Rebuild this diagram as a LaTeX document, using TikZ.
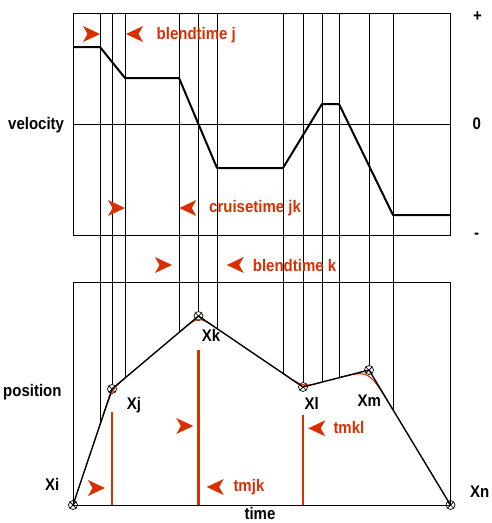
\documentclass[tikz,border=0pt]{standalone}
\usepackage{fontspec}
\setmainfont{Liberation Sans}
\definecolor{bred}{RGB}{216,48,0}
\newcommand{\tx}[1]{\scalebox{1}[1.12]{#1}}
\begin{document}
\begin{tikzpicture}[x=1pt,y=-1pt,
  lbl/.style={font=\fontsize{15}{18}\selectfont\bfseries, inner sep=0pt, anchor=base west},
  rlbl/.style={lbl, text=bred},
  guide/.style={line width=0.9pt},
  frame/.style={line width=1pt},
  prof/.style={line width=2pt, line join=round},
  pospath/.style={line width=1.4pt, line join=round},
  blend/.style={bred, line width=1.1pt},
  tmark/.style={bred, line width=2.5pt},
  via/.style={circle, draw, minimum size=9pt, inner sep=0pt, line width=0.7pt,
    path picture={\draw[line width=0.7pt]
      (path picture bounding box.north west) -- (path picture bounding box.south east)
      (path picture bounding box.north east) -- (path picture bounding box.south west);}},
  rtri/.pic={\fill[bred] (0,0) -- (-17,-8) -- (-12.5,0) -- (-17,8) -- cycle;},
  ltri/.pic={\fill[bred] (0,0) -- (17,-8) -- (12.5,0) -- (17,8) -- cycle;}
]
\useasboundingbox (0,0) rectangle (492,523);

% frames
\draw[frame] (73,13) rectangle (450.5,235);
\draw[frame] (73,282) rectangle (450.5,505);
\draw[frame] (73,124) -- (450.5,124);

% via points
\node[via] (Xi) at (73,505) {};
\node[via] (Xj) at (112,389) {};
\node[via] (Xk) at (198.5,316) {};
\node[via] (Xl) at (303,387) {};
\node[via] (Xm) at (369,370) {};
\node[via] (Xn) at (450.5,505) {};

% guide line ends
\foreach \n/\x/\yb in {a/100/424.7, b/125/378, c/179/332.5, d/217/328.6,
                       e/283/373.4, f/322/382.1, g/339/377.7, h/393/410} {
  \coordinate (t\n) at (\x,13);
  \coordinate (b\n) at (\x,\yb);
  \draw[guide] (t\n) -- (b\n);
}
\foreach \v in {Xj,Xk,Xl,Xm} {
  \coordinate (t\v) at (\v |- 0,13);
  \draw[guide] (t\v) -- (\v.north);
}

% velocity profile
\draw[prof] (73,47) -- (100,47) -- (125,78) -- (179,78) -- (217,168) -- (283,168)
  -- (322,104) -- (339,104) -- (393,215) -- (450.5,215);

% parabolic blends
\draw[blend] (ba) .. controls (Xj.center) .. (bb);
\draw[blend] (bc) .. controls (Xk.center) .. (bd);
\draw[blend] (be) .. controls (Xl.center) .. (bf);
\draw[blend] (bg) .. controls (Xm.center) .. (bh);

% position path
\draw[pospath] (Xi.center) -- (Xj.center) -- (Xk.center) -- (Xl.center) -- (Xm.center) -- (Xn.center);

% time marks
\coordinate (m1t) at (112,412);  \coordinate (m1b) at (112,505);
\coordinate (m2t) at (198.5,350); \coordinate (m2b) at (198.5,505);
\coordinate (m3t) at (303,415);  \coordinate (m3b) at (303,505);
\draw[tmark] (m1t) -- (m1b);
\draw[tmark] (m2t) -- (m2b);
\draw[tmark] (m3t) -- (m3b);

% red arrowheads
\pic (p1) at (100,34) {rtri};
\pic (p2) at (126,34) {ltri};
\pic (p3) at (125,208) {rtri};
\pic (p4) at (179.3,208) {ltri};
\pic (p5) at (172,265) {rtri};
\pic (p6) at (226.7,265) {ltri};
\pic (p7) at (105,488) {rtri};
\pic (p8) at (193.3,426) {rtri};
\pic (p9) at (206.7,487) {ltri};
\pic (p10) at (308.3,428.3) {ltri};

% red labels
\node[rlbl] (l1) at (156.5,39.3) {\tx{blendtime j}};
\node[rlbl] (l2) at (209,212.7) {\tx{cruisetime jk}};
\node[rlbl] (l3) at (252.7,271.5) {\tx{blendtime k}};
\node[rlbl] (l4) at (233.3,491.7) {\tx{tmjk}};
\node[rlbl] (l5) at (333.3,433.3) {\tx{tmkl}};

% black labels
\node[lbl] (vel) at (8,129) {\tx{velocity}};
\node[lbl] (pos) at (3,396.5) {\tx{position}};
\node[lbl] (plus) at (473,21) {\tx{+}};
\node[lbl] (zero) at (472.5,129.5) {\tx{0}};
\node[lbl] (minus) at (474,238) {\tx{-}};
\node[lbl] (lXi) at (45,490.7) {\tx{Xi}};
\node[lbl] (lXj) at (126.7,409.3) {\tx{Xj}};
\node[lbl] (lXk) at (201.7,341.7) {\tx{Xk}};
\node[lbl] (lXl) at (304.3,409.3) {\tx{Xl}};
\node[lbl] (lXm) at (357.3,406.7) {\tx{Xm}};
\node[lbl] (lXn) at (470,497.3) {\tx{Xn}};
\node[lbl, anchor=base] (ltime) at (260,519) {\tx{time}};
\end{tikzpicture}
\end{document}
